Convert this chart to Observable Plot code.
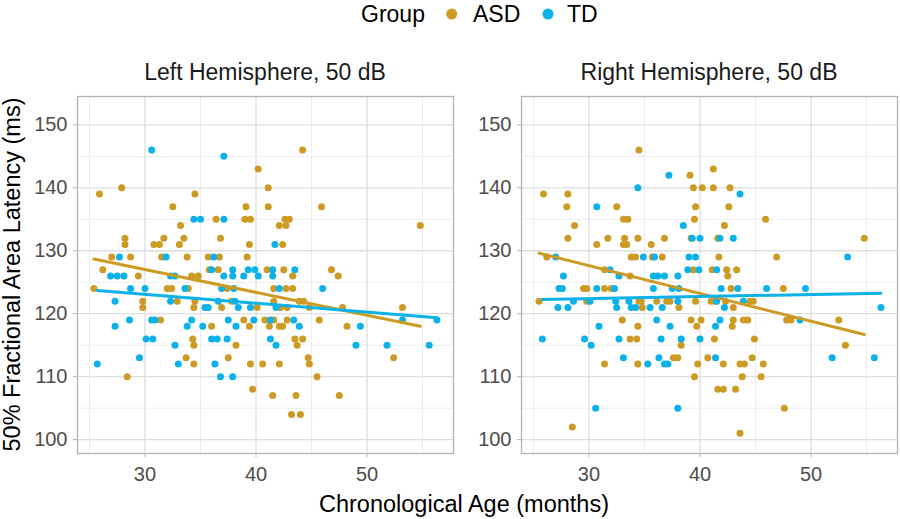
<!DOCTYPE html>
<html><head><meta charset="utf-8">
<script src="https://cdn.jsdelivr.net/npm/d3@7"></script>
<script src="https://cdn.jsdelivr.net/npm/@observablehq/plot@0.6"></script>
<style>
html,body{margin:0;padding:0;background:#fff;}
#wrap{position:relative;width:900px;height:519px;overflow:hidden;font-family:"Liberation Sans",Arial,sans-serif;}
#wrap > div, #wrap > svg{position:absolute;top:0;}
#left{left:0}
#right{left:455px}
#overlay{left:0;top:0;pointer-events:none}
svg [aria-label="x-axis tick"], svg [aria-label="y-axis tick"]{stroke:#b3b3b3;}
</style>
</head><body>
<div id="wrap">
  <div id="left"></div>
  <div id="right"></div>
  <svg id="overlay" width="900" height="519"></svg>
</div>
<script>
const groups = ["ASD", "TD"];
const groupColors = ["#CD9A23", "#0BB2EA"];
const panelTitles = ["Left Hemisphere, 50 dB", "Right Hemisphere, 50 dB"];
const legendTitle = "Group";
const xTitle = "Chronological Age (months)";
const yTitle = "50% Fractional Area Latency (ms)";
const xMajorTicks = [30, 40, 50];
const xMinorTicks = [25, 35, 45, 55];
const yMajorTicks = [100, 110, 120, 130, 140, 150];
const yMinorTicks = [105, 115, 125, 135, 145];

// [age (months), latency (ms)]
const leftASD = [
[40.2,143],[25.9,139],[27.9,140],[34.5,139],[41.1,140],[32.5,137],[39.1,137],[41.1,137],[44.2,146],[45.9,137],
[42.6,135],[43.0,135],[42.1,134],[42.7,134],[54.8,134],[42.4,131],[36.4,135],[39.0,135],[39.5,135],[33.2,134],
[28.2,132],[28.2,131],[33.5,132],[36.8,132],[31.7,132],[30.8,131],[31.3,131],[33.1,131],[39.4,131],
[27.0,129],[28.7,129],[31.5,129],[33.8,129],[35.7,129],[36.7,129],[39.2,129],
[26.2,127],[35.8,127],[36.6,127],[41.0,127],[42.5,127],[46.8,127],
[29.4,126],[34.2,126],[34.8,126],[43.3,126],[47.4,126],
[25.4,124],[32.0,124],[32.4,124],[33.9,124],[37.4,124],[41.6,124],[42.7,124],[43.3,124],
[29.8,122],[32.9,122],[34.5,122],[37.8,122],[41.6,122],[43.9,122],[44.3,122],
[29.8,121],[34.4,121],[36.9,121],[40.1,121],[42.2,121],[42.8,121],[44.8,121],[47.8,121],[53.2,121],
[31.4,119],[38.9,119],[40.8,119],[41.6,119],[42.8,119],[45.7,119],
[39.4,118],[36.0,118],[41.2,118],[42.1,118],[42.4,118],[48.2,118],
[34.3,116],[43.5,116],[44.2,116],
[34.4,115],[38.2,115],[43.7,115],
[33.7,113],[37.5,113],[44.7,113],[52.4,113],
[34.4,112],[39.5,112],[40.6,112],[42.1,112],[44.8,112],
[28.4,110],[45.5,110],
[39.7,108],
[41.5,107],[43.6,107],[47.5,107],
[43.2,104],[44.0,104]
];
const leftTD = [
[30.6,146],[37.1,145],[34.4,135],[35.0,135],[37.1,135],[41.7,131],
[27.7,129],[31.9,129],[36.2,129],
[36.0,127],[37.9,127],[39.3,127],[39.9,127],[41.5,127],[43.5,127],
[26.9,126],[27.5,126],[28.1,126],[32.3,126],[32.7,126],[37.1,126],[37.9,126],[38.9,126],[40.2,126],[41.5,126],
[28.7,124],[30.0,124],[33.6,124],[36.9,124],[38.0,124],[42.1,124],[46.0,124],
[27.3,122],[32.3,122],[36.6,122],[38.1,122],
[35.4,121],[35.7,121],[38.4,121],[39.5,121],[41.8,121],
[28.6,119],[30.6,119],[30.9,119],[34.2,119],[37.5,119],[39.8,119],[41.3,119],[43.4,119],[53.2,119],[56.3,119],
[27.3,118],[33.8,118],[35.2,118],[38.2,118],[43.9,118],[49.4,118],
[30.1,116],[30.7,116],[36.0,116],[36.5,116],[37.4,116],[41.3,116],
[32.7,115],[41.8,115],[49.0,115],[51.8,115],[55.6,115],
[29.5,113],
[25.7,112],[33.0,112],[36.3,112],
[36.8,110],[37.9,110]
];
const rightASD = [
[34.5,146],[39.1,142],[39.4,140],[40.2,140],[25.9,139],[28.1,139],[28.0,137],[32.5,137],[39.6,137],
[33.1,135],[33.5,135],[39.5,135],[28.7,134],
[41.2,143],[41.2,140],[42.7,140],[42.6,137],[45.9,135],[42.2,134],
[28.1,132],[31.7,132],[33.2,132],[34.4,132],[36.8,132],[39.2,132],[41.6,132],[54.8,132],
[30.7,131],[33.1,131],[33.4,131],[35.6,131],
[26.2,129],[33.8,129],[34.2,129],[35.7,129],[36.6,129],[41.7,129],[46.9,129],
[31.4,127],[39.4,127],[41.1,127],[42.4,127],[43.3,127],
[33.7,126],[42.5,126],
[29.5,124],[29.8,124],[31.4,124],[32.0,124],[42.8,124],[47.5,124],
[25.5,122],[29.8,122],[34.5,122],[34.7,122],[36.1,122],[37.0,122],[37.3,122],[39.6,122],[41.0,122],[41.4,122],[42.3,122],[44.5,122],[44.8,122],
[34.8,121],[38.1,121],[43.0,121],
[33.0,119],[39.2,119],[40.1,119],[43.0,119],[43.9,119],[44.3,119],[47.8,119],[48.2,119],[52.5,119],
[34.4,118],[39.7,118],[42.9,118],
[33.7,116],[34.3,116],[41.3,116],[44.9,116],
[38.3,115],[53.1,115],
[37.6,113],[38.0,113],[40.7,113],[44.7,113],
[31.4,112],[34.4,112],[39.8,112],[42.1,112],[43.6,112],[44.0,112],[45.7,112],
[39.5,110],[43.8,110],[45.5,110],
[41.6,108],[42.1,108],[43.2,108],
[47.6,105],
[28.5,102],
[43.6,101]
];
const rightTD = [
[37.2,142],[34.4,140],[30.7,137],[38.5,134],[43.6,139],
[39.3,132],[40.0,132],[41.8,132],[43.0,132],
[27.0,129],[34.9,129],[35.9,129],[39.0,129],[39.6,129],[53.3,129],
[31.9,127],[38.9,127],[39.9,127],[41.5,127],
[27.7,126],[32.7,126],[35.8,126],[36.2,126],[36.8,126],[38.0,126],
[27.3,124],[27.6,124],[30.7,124],[32.3,124],[35.8,124],[37.5,124],[38.1,124],[41.9,124],[43.4,124],[46.0,124],[49.5,124],
[28.6,122],[30.1,122],[32.4,122],[33.6,122],[38.0,122],[41.5,122],[43.9,122],
[27.2,121],[28.1,121],[32.5,121],[33.8,121],[34.2,121],[35.5,121],[36.6,121],[42.2,121],[56.3,121],
[36.1,119],[41.8,119],[49.0,119],
[30.9,118],[37.3,118],[41.4,118],
[25.8,116],[29.6,116],[32.7,116],[36.5,116],[38.3,116],[40.0,116],
[30.2,115],
[33.1,113],[36.3,113],[41.4,113],[51.9,113],[55.7,113],
[35.3,112],[36.8,112],[37.1,112],
[30.6,105],[38.0,105]
];

function rows(asd, td) {
  return [
    ...asd.map(([age, lat]) => ({group: "ASD", age, lat})),
    ...td.map(([age, lat]) => ({group: "TD", age, lat}))
  ];
}

function panel(data, width, ml, mr) {
  return Plot.plot({
    width, height: 519,
    marginLeft: ml, marginRight: mr, marginTop: 96, marginBottom: 66,
    style: {fontFamily: '"Liberation Sans", Arial, sans-serif', fontSize: "20px", color: "#4d4d4d", background: "transparent", overflow: "visible"},
    x: {domain: [23.92, 57.79]},
    y: {domain: [97.8, 154.5]},
    color: {domain: groups, range: groupColors},
    marks: [
      Plot.gridX(xMinorTicks, {stroke: "#ececec", strokeOpacity: 1, strokeWidth: 1}),
      Plot.gridY(yMinorTicks, {stroke: "#ececec", strokeOpacity: 1, strokeWidth: 1}),
      Plot.gridX(xMajorTicks, {stroke: "#dedede", strokeOpacity: 1, strokeWidth: 1.3}),
      Plot.gridY(yMajorTicks, {stroke: "#dedede", strokeOpacity: 1, strokeWidth: 1.3}),
      Plot.frame({stroke: "#b3b3b3", strokeWidth: 1.3}),
      Plot.axisX(xMajorTicks, {tickSize: 4, tickPadding: 9, label: null}),
      Plot.axisY(yMajorTicks, {tickSize: 4, tickPadding: 6, label: null}),
      Plot.dot(data, {x: "age", y: "lat", fill: "group", r: 3.5}),
      Plot.linearRegressionY(data, {x: "age", y: "lat", stroke: "group", ci: 0, strokeWidth: 3})
    ]
  });
}

document.getElementById("left").appendChild(panel(rows(leftASD, leftTD), 455, 77, 2));
document.getElementById("right").appendChild(panel(rows(rightASD, rightTD), 445, 66, 3));

// overlay texts: legend, facet titles, axis titles
const ov = d3.select("#overlay").style("font-family", '"Liberation Sans", Arial, sans-serif');
ov.append("text").attr("x", 361).attr("y", 22).attr("font-size", 23).attr("fill", "#000").text(legendTitle);
const legendX = [[451.7, 473], [548, 567]];
groups.forEach((g, i) => {
  ov.append("circle").attr("cx", legendX[i][0]).attr("cy", 14).attr("r", 5.5).attr("fill", groupColors[i]);
  ov.append("text").attr("x", legendX[i][1]).attr("y", 22).attr("font-size", 23).attr("fill", "#000").text(g);
});
const titleX = [265, 709];
panelTitles.forEach((t, i) => {
  ov.append("text").attr("x", titleX[i]).attr("y", 80).attr("text-anchor", "middle").attr("font-size", 23).attr("fill", "#1a1a1a").text(t);
});
ov.append("text").attr("x", 464).attr("y", 512).attr("text-anchor", "middle").attr("font-size", 23.5).attr("fill", "#000").text(xTitle);
ov.append("text").attr("transform", "translate(20,274.5) rotate(-90)").attr("text-anchor", "middle").attr("font-size", 23.5).attr("fill", "#000").text(yTitle);
</script>
</body></html>
